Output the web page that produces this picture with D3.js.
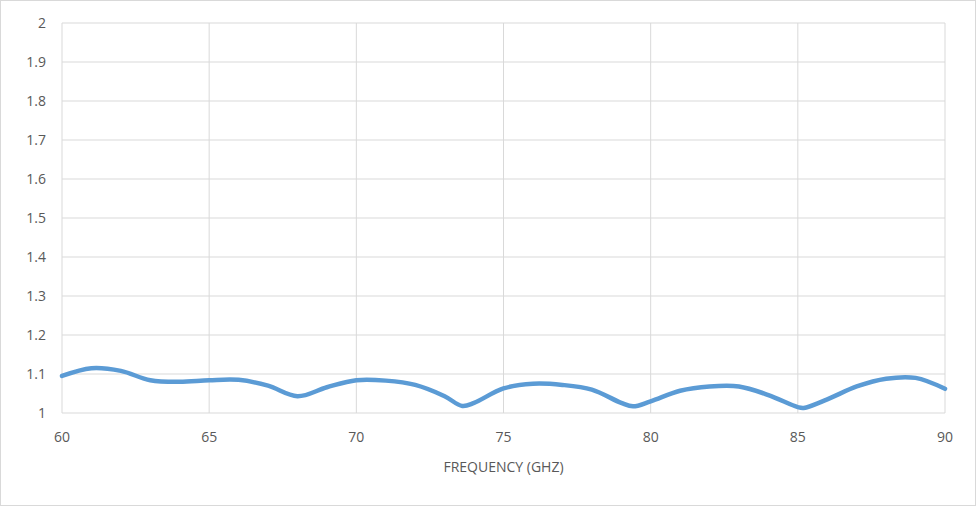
<html>
<head>
<script src="https://d3js.org/d3.v7.min.js"></script>
<style>
html,body{margin:0;padding:0;background:#fff;}
text{font-family:"Open Sans",Arial,sans-serif;fill:#595959;}
</style>
</head>
<body>
<div id="chart"></div>
<script>
const freq = [60, 61, 62, 63, 64, 65, 66, 67, 68, 69, 70, 71, 72, 73, 73.6, 74, 75, 76, 77, 78, 79, 79.4, 80, 81, 82, 83, 84, 85, 85.2, 86, 87, 88, 89, 90];
const vswr = [1.095, 1.115, 1.108, 1.084, 1.08, 1.084, 1.085, 1.07, 1.043, 1.066, 1.084, 1.083, 1.072, 1.043, 1.018, 1.026, 1.063, 1.075, 1.072, 1.06, 1.026, 1.017, 1.03, 1.057, 1.068, 1.068, 1.046, 1.015, 1.013, 1.035, 1.068, 1.088, 1.09, 1.062];
const xTicks = [60, 65, 70, 75, 80, 85, 90];
const yTicks = [1, 1.1, 1.2, 1.3, 1.4, 1.5, 1.6, 1.7, 1.8, 1.9, 2];

const W = 976, H = 506;
const svg = d3.select("#chart").append("svg").attr("width", W).attr("height", H);
svg.append("rect").attr("x", 0.5).attr("y", 0.5).attr("width", W - 1).attr("height", H - 1)
  .attr("fill", "white").attr("stroke", "#d9d9d9");

const x = d3.scaleLinear().domain([60, 90]).range([62, 945]);
const y = d3.scaleLinear().domain([1, 2]).range([413, 23]);

// grid
svg.append("g").selectAll("line").data(yTicks).enter().append("line")
  .attr("x1", x(60)).attr("x2", x(90)).attr("y1", d => y(d)).attr("y2", d => y(d))
  .attr("stroke", "#d9d9d9");
svg.append("g").selectAll("line").data(xTicks).enter().append("line")
  .attr("y1", y(1)).attr("y2", y(2)).attr("x1", d => x(d)).attr("x2", d => x(d))
  .attr("stroke", "#d9d9d9");

svg.append("g").selectAll("text").data(yTicks).enter().append("text")
  .attr("x", 46).attr("y", d => y(d) + 5).attr("text-anchor", "end").attr("font-size", 14)
  .text(d => d3.format("~g")(d));
svg.append("g").selectAll("text").data(xTicks).enter().append("text")
  .attr("x", d => x(d)).attr("y", 442).attr("text-anchor", "middle").attr("font-size", 14)
  .text(d => d);

svg.append("text").attr("x", (x(60) + x(90)) / 2).attr("y", 472).attr("text-anchor", "middle")
  .attr("font-size", 14).text("FREQUENCY (GHZ)");

const pts = freq.map((f, i) => [f, vswr[i]]);
svg.append("path").datum(pts).attr("fill", "none").attr("stroke", "#5b9bd5")
  .attr("stroke-width", 4.5).attr("stroke-linecap", "round")
  .attr("d", d3.line().x(d => x(d[0])).y(d => y(d[1])).curve(d3.curveCatmullRom));
</script>
</body>
</html>
